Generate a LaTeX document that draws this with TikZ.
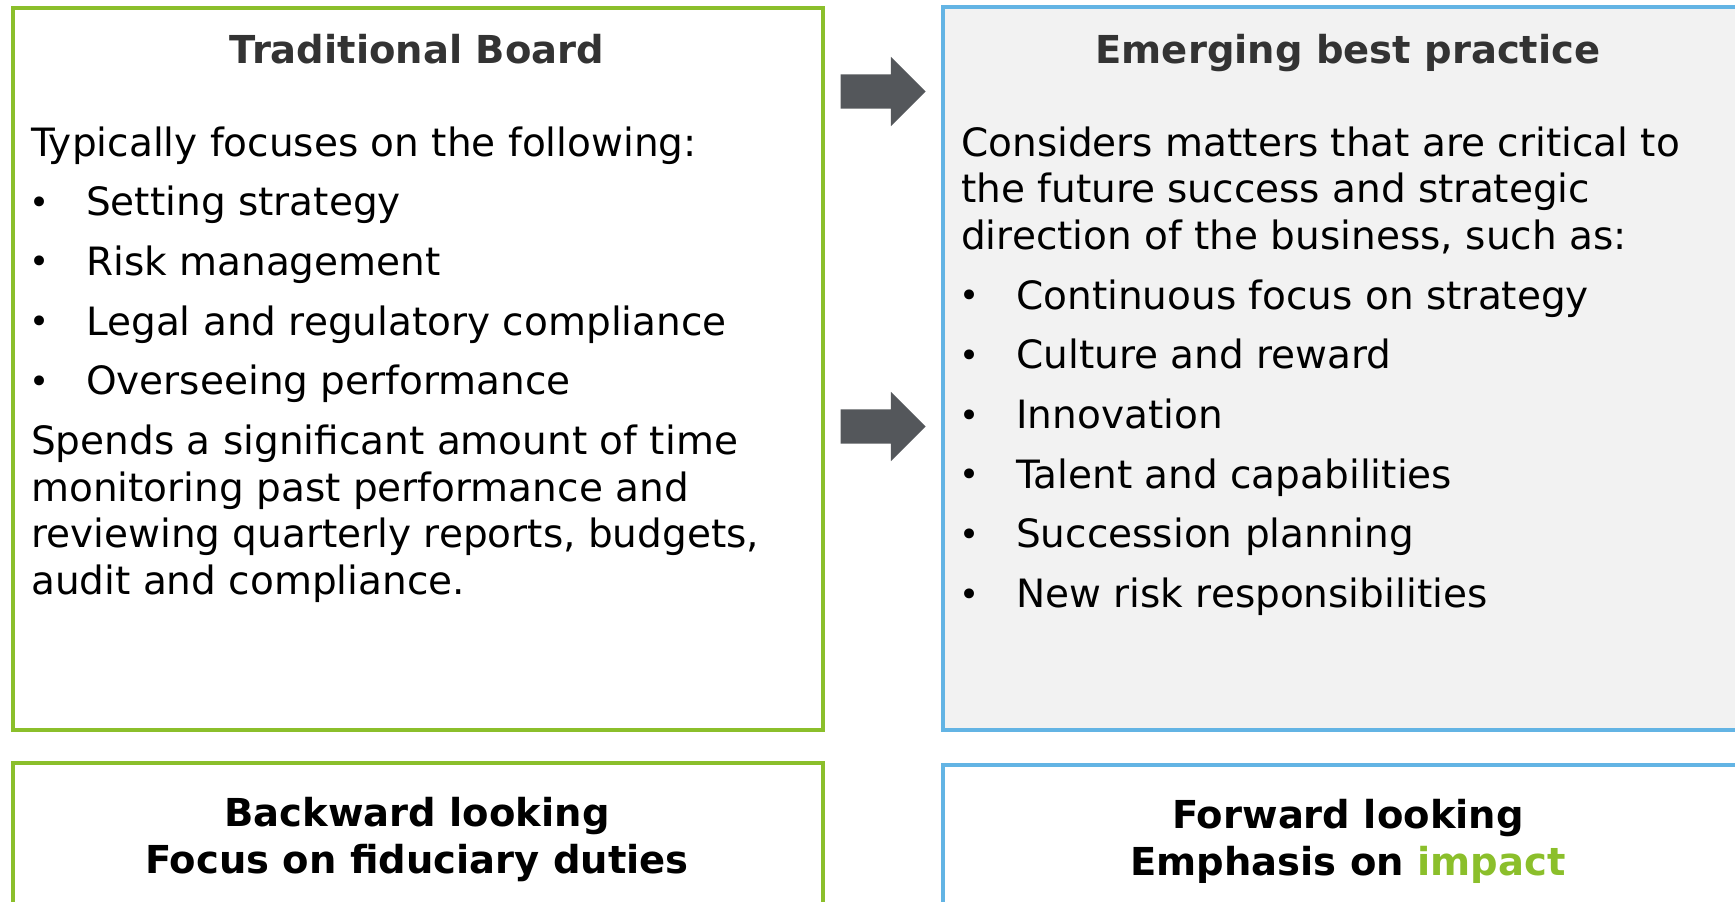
\documentclass[tikz,border=0pt]{standalone}
\usepackage{fontspec}
\setmainfont{DejaVu Sans}
\usetikzlibrary{positioning,shapes.arrows}
\usepackage{xcolor}

\definecolor{boardgreen}{HTML}{8BBF2B}
\definecolor{practiceblue}{HTML}{63B4E4}
\definecolor{panelgray}{HTML}{F2F2F2}
\definecolor{arrowgray}{HTML}{54575B}
\definecolor{titlegray}{HTML}{333333}

\newcommand{\boarditem}[1]{\makebox[55pt][l]{\hspace{-2pt}\raisebox{1.5pt}{\fontsize{34}{34}\selectfont\textbullet}}#1}

\begin{document}
\begin{tikzpicture}[x=1pt,y=-1pt,
greenbox/.style={rectangle, draw=boardgreen, line width=4.5pt, inner sep=0pt},
bluebox/.style={rectangle, draw=practiceblue, line width=4.5pt, inner sep=0pt},
boxtitle/.style={font=\fontsize{38.5}{44}\selectfont\bfseries, text=titlegray, inner sep=0pt, anchor=base},
bodyline/.style={font=\fontsize{39}{46.5}\selectfont, inner sep=0pt, anchor=base west},
footline/.style={font=\fontsize{38.5}{46.5}\selectfont\bfseries, align=center, inner sep=0pt},
blockarrow/.style={single arrow, fill=arrowgray, inner sep=0pt, text height=34pt, text depth=0pt, text width=0pt, minimum height=85pt, single arrow head extend=17.5pt},
]
\clip (0,0) rectangle (1735,902);

%Boxes
\node[greenbox, minimum width=810pt, minimum height=722pt] (tradBox) at (418,369) {};
\node[bluebox, fill=panelgray, minimum width=820pt, minimum height=723pt] (bestBox) at (1353,368.5) {};
\node[greenbox, minimum width=810pt, minimum height=200pt] (backBox) at (418,863) {};
\node[bluebox, minimum width=820pt, minimum height=200pt] (foreBox) at (1353,865) {};

%Arrows
\node[blockarrow] (arrowTop) at (874.5,91.5) {};
\node[blockarrow] (arrowMid) at (874.5,426.5) {};

%Titles
\node[boxtitle] (tradTitle) at (417,63) {Traditional Board};
\node[boxtitle] (bestTitle) at (1348,63) {Emerging best practice};

%%% Traditional Board
\node[bodyline] (tradIntro) at (31,156) {Typically focuses on the following:};
\node[bodyline] (tradItemA) [below=59.7pt of tradIntro.base west, anchor=base west] {\boarditem{Setting strategy}};
\node[bodyline] (tradItemB) [below=59.7pt of tradItemA.base west, anchor=base west] {\boarditem{Risk management}};
\node[bodyline] (tradItemC) [below=59.7pt of tradItemB.base west, anchor=base west] {\boarditem{Legal and regulatory compliance}};
\node[bodyline] (tradItemD) [below=59.7pt of tradItemC.base west, anchor=base west] {\boarditem{Overseeing performance}};
\node[bodyline] (tradSpendA) [below=60pt of tradItemD.base west, anchor=base west] {Spends a significant amount of time};
\node[bodyline] (tradSpendB) [below=46.5pt of tradSpendA.base west, anchor=base west] {monitoring past performance and};
\node[bodyline] (tradSpendC) [below=46.5pt of tradSpendB.base west, anchor=base west] {reviewing quarterly reports, budgets,};
\node[bodyline] (tradSpendD) [below=46.5pt of tradSpendC.base west, anchor=base west] {audit and compliance.};

%%% Emerging best practice
\node[bodyline] (bestIntroA) at (961,156) {Considers matters that are critical to};
\node[bodyline] (bestIntroB) [below=46.7pt of bestIntroA.base west, anchor=base west] {the future success and strategic};
\node[bodyline] (bestIntroC) [below=46.7pt of bestIntroB.base west, anchor=base west] {direction of the business, such as:};
\node[bodyline] (bestItemA) [below=59.7pt of bestIntroC.base west, anchor=base west] {\boarditem{Continuous focus on strategy}};
\node[bodyline] (bestItemB) [below=59.7pt of bestItemA.base west, anchor=base west] {\boarditem{Culture and reward}};
\node[bodyline] (bestItemC) [below=59.7pt of bestItemB.base west, anchor=base west] {\boarditem{Innovation}};
\node[bodyline] (bestItemD) [below=59.7pt of bestItemC.base west, anchor=base west] {\boarditem{Talent and capabilities}};
\node[bodyline] (bestItemE) [below=59.7pt of bestItemD.base west, anchor=base west] {\boarditem{Succession planning}};
\node[bodyline] (bestItemF) [below=59.7pt of bestItemE.base west, anchor=base west] {\boarditem{New risk responsibilities}};

%%% Bottom lines
\node[footline] (backText) at (417,839.5) {Backward looking\\Focus on fiduciary duties};
\node[footline] (foreText) at (1348,841.5) {Forward looking\\Emphasis on \textcolor{boardgreen}{impact}};

\end{tikzpicture}
\end{document}
